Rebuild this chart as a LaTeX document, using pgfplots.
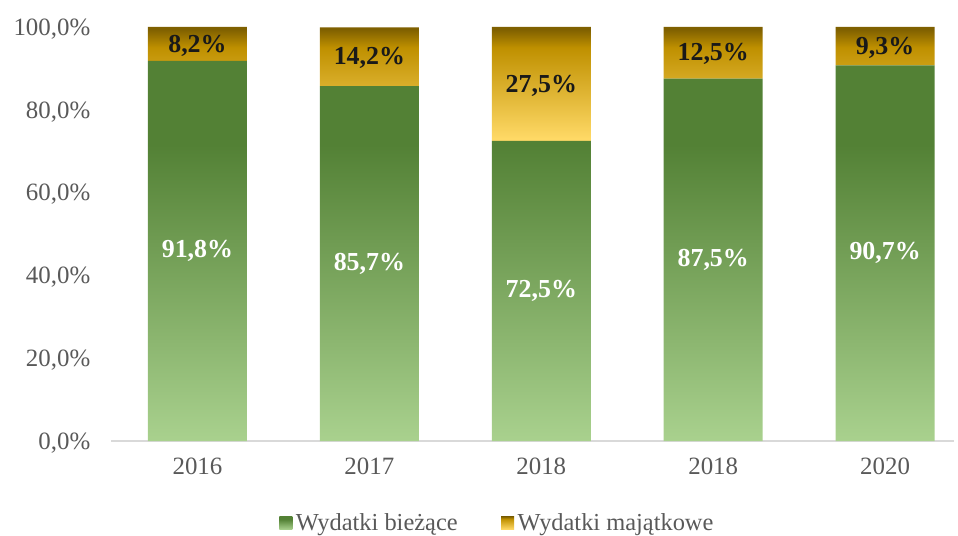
\documentclass[border=0pt]{standalone}
\usepackage{fontspec}
\setmainfont{Liberation Serif}
\usepackage{pgfplots}
\pgfplotsset{compat=1.18}
\definecolor{gDark}{HTML}{538135}
\definecolor{gLight}{HTML}{A9D18E}
\definecolor{yTop}{HTML}{7F6000}
\definecolor{yMid}{HTML}{BF9000}
\definecolor{yLight}{HTML}{FFD966}
\definecolor{txt}{HTML}{595959}
\pgfdeclareverticalshading{greenbar}{100bp}{color(0bp)=(gLight); color(25bp)=(gLight); color(64bp)=(gDark); color(100bp)=(gDark)}
\pgfdeclareverticalshading{goldbar}{100bp}{color(0bp)=(yLight); color(26bp)=(yLight); color(66bp)=(yMid); color(74bp)=(yTop); color(100bp)=(yTop)}
\pgfplotstableread{
x green gold
0 91.8 8.2
1 85.7 14.2
2 72.5 27.5
3 87.5 12.5
4 90.7 9.3
}\shares
\pgfplotstableread{
x gy glab yy ylab
0 45.90 {91,8\%} 95.90 {8,2\%}
1 42.85 {85,7\%} 92.85 {14,2\%}
2 36.25 {72,5\%} 86.25 {27,5\%}
3 43.75 {87,5\%} 93.75 {12,5\%}
4 45.35 {90,7\%} 95.35 {9,3\%}
}\labels
\begin{document}
\begin{tikzpicture}
\useasboundingbox (-111.5bp,-95bp) rectangle (846.5bp,441bp);
\begin{axis}[
  at={(0,0)}, anchor=south west,
  scale only axis, width=842.4bp, height=414bp,
  xmin=-0.5, xmax=4.4, ymin=0, ymax=100,
  ybar stacked, bar width=99bp,
  axis lines*=left,
  y axis line style={draw=none},
  x axis line style={draw=black!15, line width=1.2bp, -},
  tick style={draw=none},
  xtick=data, xticklabels={2016,2017,2018,2018,2020},
  ytick={0,20,...,100},
  yticklabel={\pgfmathprintnumber[fixed,fixed zerofill,precision=1,use comma,assume math mode=true]{\tick}\%},
  yticklabel style={anchor=east, inner sep=0pt, xshift=-21bp, yshift=-2bp, font=\fontsize{25}{29}\selectfont, text=txt},
  xticklabel style={anchor=north, inner sep=0pt, yshift=-17bp, font=\fontsize{25}{29}\selectfont, text=txt},
  legend columns=2,
  legend style={at={(axis description cs:0.199,-0.198)}, anchor=west, draw=none, fill=none,
    font=\fontsize{24.5}{28}\selectfont, text=txt, inner sep=0pt,
    /tikz/every even column/.append style={column sep=40bp},
    nodes={inner sep=3.5bp}},
]
\addplot[draw=none, shade, shading=greenbar,
  legend image code/.code={\path[shade, shading=greenbar] (0bp,-6.5bp) rectangle (13bp,6.5bp);}]
  table[x=x, y=green] {\shares};
\addlegendentry{Wydatki bieżące}
\addplot[draw=none, shade, shading=goldbar,
  legend image code/.code={\path[shade, shading=goldbar] (0bp,-6.5bp) rectangle (13bp,6.5bp);}]
  table[x=x, y=gold] {\shares};
\addlegendentry{Wydatki majątkowe}
\end{axis}
\begin{axis}[
  at={(0,0)}, anchor=south west,
  scale only axis, width=842.4bp, height=414bp,
  xmin=-0.5, xmax=4.4, ymin=0, ymax=100,
  hide axis,
]
\addplot[only marks, mark=none, nodes near coords, point meta=explicit symbolic,
  every node near coord/.append style={anchor=center, inner sep=0pt, text=white, font=\bfseries\fontsize{26}{30}\selectfont}]
  table[x=x, y=gy, meta=glab] {\labels};
\addplot[only marks, mark=none, nodes near coords, point meta=explicit symbolic,
  every node near coord/.append style={anchor=center, inner sep=0pt, yshift=-1.5bp, text=black!90, font=\bfseries\fontsize{26}{30}\selectfont}]
  table[x=x, y=yy, meta=ylab] {\labels};
\end{axis}
\end{tikzpicture}
\end{document}
